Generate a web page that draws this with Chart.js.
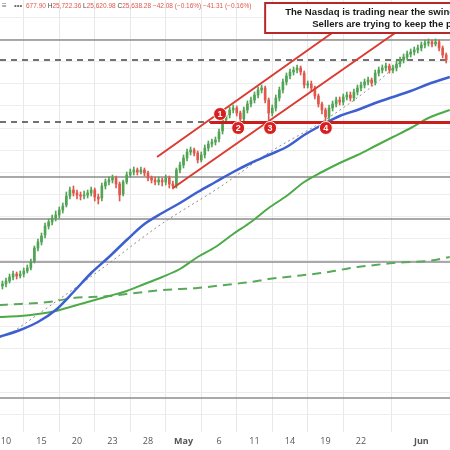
<!DOCTYPE html>
<html>
<head>
<meta charset="utf-8">
<script src="https://cdn.jsdelivr.net/npm/chart.js@4.4.0/dist/chart.umd.min.js"></script>
<style>
  html, body { margin: 0; padding: 0; background: #fff; }
  #wrap { width: 450px; height: 450px; }
</style>
</head>
<body>
<div id="wrap"><canvas id="grafico" width="450" height="450"></canvas></div>
<script>
// Eixo do tempo: posição (índice da vela) e texto de cada rótulo
const tickIdx = [1, 11, 21, 31, 41, 51, 61, 71, 81, 91, 101, 118];
const tickLabels = ['10', '15', '20', '23', '28', 'May', '6', '11', '14', '19', '22', 'Jun'];
const boldLabels = ['May', 'Jun'];

// Linhas de grade horizontais (preço)
const gridLevels = [25820, 25600, 25380, 25160, 24940, 24720, 24500, 24280, 24060, 23840,
  23620, 23400, 23180, 22960, 22740, 22520, 22300, 22080, 21860];

// Velas horárias (índice 0..125)
const opens = [
  23140,23160,23190,23230,23260,23240,23260,23290,23320,23390,
  23520,23580,23650,23740,23780,23820,23850,23900,23950,24040,
  24100,24070,24050,24040,24050,24070,24100,24030,24020,24140,
  24180,24200,24220,24160,24060,24180,24250,24280,24300,24280,
  24300,24270,24220,24200,24180,24200,24180,24220,24160,24150,
  24300,24350,24420,24480,24500,24470,24400,24450,24520,24560,
  24580,24610,24690,24800,24850,24900,24920,24870,24810,24900,
  24960,25000,25050,25100,25120,25000,24870,24920,25020,25100,
  25180,25240,25280,25300,25320,25270,25150,25160,25120,25040,
  24960,24900,24830,24920,24960,25000,24980,25030,25050,25020,
  25080,25120,25150,25180,25200,25180,25270,25300,25320,25340,
  25300,25320,25360,25400,25430,25460,25480,25500,25520,25550,
  25570,25580,25560,25580,25520,25450
];
const highs = [
  23190,23220,23260,23290,23280,23290,23320,23350,23410,23540,
  23610,23670,23770,23810,23850,23890,23930,23970,24080,24130,
  24140,24100,24080,24090,24100,24130,24120,24060,24170,24210,
  24230,24250,24240,24180,24200,24280,24310,24330,24320,24330,
  24320,24290,24240,24230,24230,24220,24250,24240,24190,24320,
  24380,24450,24510,24530,24520,24490,24480,24550,24590,24610,
  24630,24710,24830,24880,24930,24950,24940,24890,24930,24990,
  25030,25080,25130,25150,25140,25020,24950,25050,25130,25210,
  25270,25310,25330,25350,25340,25290,25190,25190,25140,25060,
  24980,24920,24950,24990,25030,25030,25060,25080,25080,25110,
  25150,25180,25210,25230,25220,25300,25330,25350,25370,25360,
  25350,25390,25430,25460,25490,25510,25530,25550,25580,25600,
  25610,25600,25610,25600,25540,25470
];
const lows = [
  23110,23130,23170,23200,23210,23220,23230,23270,23300,23370,
  23490,23550,23620,23710,23750,23790,23820,23870,23930,24010,
  24040,24010,24000,24010,24020,24040,23990,23960,23990,24110,
  24150,24170,24120,23990,24040,24160,24230,24250,24250,24260,
  24240,24190,24170,24150,24150,24140,24150,24120,24110,24120,
  24270,24320,24390,24450,24440,24370,24380,24420,24490,24530,
  24550,24580,24660,24770,24820,24870,24840,24780,24790,24870,
  24930,24970,25020,25070,24970,24780,24840,24890,24990,25070,
  25150,25210,25250,25270,25250,25120,25120,25090,25010,24930,
  24860,24780,24800,24890,24930,24950,24950,25000,24990,24990,
  25050,25090,25120,25150,25140,25150,25240,25270,25290,25270,
  25270,25290,25330,25370,25400,25430,25450,25470,25490,25520,
  25540,25530,25540,25490,25420,25370
];
const closes = [
  23160,23190,23230,23260,23240,23260,23290,23320,23380,23520,
  23580,23640,23740,23780,23820,23850,23900,23940,24040,24100,
  24070,24050,24040,24050,24070,24100,24030,24010,24140,24180,
  24200,24220,24160,24050,24180,24250,24280,24300,24280,24300,
  24270,24220,24200,24180,24200,24180,24220,24160,24140,24300,
  24350,24420,24480,24500,24470,24400,24450,24520,24560,24580,
  24600,24680,24800,24850,24900,24920,24870,24810,24900,24960,
  25000,25050,25100,25120,25000,24870,24920,25020,25100,25180,
  25240,25280,25300,25320,25280,25150,25160,25120,25040,24960,
  24900,24830,24920,24960,25000,24980,25030,25050,25020,25080,
  25120,25150,25180,25200,25170,25270,25300,25320,25340,25300,
  25320,25360,25400,25430,25460,25480,25500,25520,25550,25570,
  25580,25560,25580,25520,25450,25400
];

// Médias móveis (amostradas a cada 5 velas)
const maX = [-1,5,10,15,20,25,30,35,40,45,50,55,60,65,70,75,80,85,90,95,100,105,110,115,120,126];
const maAzul = [22630,22700,22780,22900,23080,23270,23430,23600,23760,23870,23970,24080,24180,
  24280,24370,24450,24530,24650,24750,24840,24900,24970,25030,25090,25160,25230];
const maVerde = [22830,22840,22860,22890,22940,22990,23040,23090,23160,23230,23310,23430,23530,
  23660,23780,23920,24040,24180,24280,24370,24450,24540,24630,24720,24820,24900];
const maVerdeTracejada = [22950,22960,22970,22990,23020,23030,23040,23060,23080,23100,23110,23120,23140,
  23160,23180,23210,23230,23250,23270,23300,23330,23350,23370,23380,23390,23430];

// Linha pontilhada cinza
const trendX = [2.97, 27.48, 44.38, 61.28, 75.37, 90.86, 103.53, 114.24, 119.03];
const trendY = [22680, 23300, 23750, 24130, 24480, 24800, 25120, 25450, 25600];

// Canal de alta (duas linhas vermelhas)
const canalX1 = [43.54, 92.83];
const canalY1 = [24430, 25670];
const canalX2 = [48.04, 110.58];
const canalY2 = [24120, 25670];

// Suporte e níveis horizontais
const suporte = 24775;
const suporteInicio = 58.5;
const niveisCinza = [25600, 24230, 23810, 23380, 22020];
const nivelTracejado = 25400;
const suporteTracejado = 24780;
const suporteTracejadoFim = 59.9;

// Marcadores numerados
const markerX = [61.3, 66.4, 75.4, 91.1];
const markerY = [24860, 24720, 24720, 24720];
const markerText = ['1', '2', '3', '4'];

const xMin = -0.69;
const xMax = 126.07;

const verde = '#52a455';
const vermelho = '#e2574c';
const corVelas = closes.map((c, i) => c >= opens[i] ? verde : vermelho);

function pontos(xs, ys) {
  return xs.map((x, i) => ({ x, y: ys[i] }));
}

function linhaHorizontal(nivel, x0, x1, estilo) {
  return Object.assign({
    type: 'line',
    data: [{ x: x0, y: nivel }, { x: x1, y: nivel }],
    pointRadius: 0,
    fill: false
  }, estilo);
}

// Plugin: números nos marcadores, caixa de texto e cabeçalho
const anotacoes = {
  id: 'anotacoes',
  afterDatasetsDraw(chart) {
    const c = chart.ctx;
    const { x, y } = chart.scales;

    // números dentro dos círculos
    const meta = chart.getDatasetMeta(0);
    c.save();
    c.fillStyle = '#fff';
    c.font = 'bold 9px "Liberation Sans", Arial, sans-serif';
    c.textAlign = 'center';
    c.textBaseline = 'middle';
    meta.data.forEach((p, i) => c.fillText(markerText[i], p.x, p.y + 0.5));
    c.restore();

    // caixa de comentário
    const bx = x.getPixelForValue(74);
    const by = y.getPixelForValue(25970);
    const bb = y.getPixelForValue(25670);
    c.save();
    c.fillStyle = '#fff';
    c.fillRect(bx, by, 200, bb - by);
    c.strokeStyle = '#b7282a';
    c.lineWidth = 2;
    c.strokeRect(bx, by, 200, bb - by);
    c.fillStyle = '#1a1a1a';
    c.font = 'bold 9.6px "Liberation Sans", Arial, sans-serif';
    c.textBaseline = 'alphabetic';
    c.fillText('The Nasdaq is trading near the swing highs.', bx + 20, by + 12);
    c.fillText('Sellers are trying to keep the price below.', bx + 47, by + 23.5);
    c.restore();
  },
  afterDraw(chart) {
    const c = chart.ctx;
    c.save();
    c.textBaseline = 'middle';
    c.font = '8px "Liberation Sans", Arial, sans-serif';
    c.fillStyle = '#666';
    c.fillText('≡', 2, 6);
    c.fillText('•••', 14, 6);
    c.font = '6.5px "Liberation Sans", Arial, sans-serif';
    const partes = [
      ['677.90 ', vermelho], ['H', '#444'], ['25,722.36 ', vermelho], ['L', '#444'],
      ['25,620.98 ', vermelho], ['C', '#444'], ['25,638.28 ', vermelho],
      ['\u221242.08 (\u22120.16%) ', vermelho], ['\u221241.31 (\u22120.16%)', vermelho]
    ];
    let px = 26;
    partes.forEach(([t, cor]) => {
      c.fillStyle = cor;
      c.fillText(t, px, 6);
      px += c.measureText(t).width;
    });
    c.restore();
  }
};

const datasets = [
  {
    type: 'line',
    data: pontos(markerX, markerY),
    showLine: false,
    pointRadius: 6.5,
    pointBackgroundColor: '#d91f1f',
    pointBorderColor: '#fff',
    pointBorderWidth: 1,
    order: 0
  },
  linhaHorizontal(suporte, suporteInicio, xMax, { borderColor: '#cc1d1d', borderWidth: 3, order: 1 }),
  { type: 'line', data: pontos(canalX1, canalY1), borderColor: '#dc3a31', borderWidth: 2, pointRadius: 0, order: 2 },
  { type: 'line', data: pontos(canalX2, canalY2), borderColor: '#dc3a31', borderWidth: 2, pointRadius: 0, order: 2 },
  {
    type: 'bar',
    data: opens.map((o, i) => ({ x: i, y: [o, closes[i]] })),
    backgroundColor: corVelas,
    barThickness: 2,
    minBarLength: 1,
    grouped: false,
    order: 3
  },
  {
    type: 'bar',
    data: opens.map((o, i) => ({ x: i, y: [lows[i], highs[i]] })),
    backgroundColor: corVelas,
    barThickness: 1,
    grouped: false,
    order: 4
  },
  { type: 'line', data: pontos(maX, maAzul), borderColor: '#3d5fd0', borderWidth: 2.5, pointRadius: 0, tension: 0.4, cubicInterpolationMode: 'monotone', order: 5 },
  { type: 'line', data: pontos(maX, maVerde), borderColor: '#4caa48', borderWidth: 2, pointRadius: 0, tension: 0.4, cubicInterpolationMode: 'monotone', order: 6 },
  { type: 'line', data: pontos(maX, maVerdeTracejada), borderColor: '#5aa95a', borderWidth: 2, borderDash: [9, 6], pointRadius: 0, tension: 0.4, cubicInterpolationMode: 'monotone', order: 7 },
  { type: 'line', data: pontos(trendX, trendY), borderColor: '#8a8a8a', borderWidth: 1, borderDash: [2, 3], pointRadius: 0, tension: 0.3, cubicInterpolationMode: 'monotone', order: 8 },
  linhaHorizontal(nivelTracejado, xMin, xMax, { borderColor: '#444', borderWidth: 1.3, borderDash: [6, 5], order: 9 }),
  linhaHorizontal(suporteTracejado, xMin, suporteTracejadoFim, { borderColor: '#444', borderWidth: 1.3, borderDash: [6, 5], order: 9 })
].concat(niveisCinza.map(n => linhaHorizontal(n, xMin, xMax, { borderColor: '#8c8c8c', borderWidth: 1.5, order: 10 })));

new Chart(document.getElementById('grafico'), {
  type: 'bar',
  data: { datasets },
  options: {
    responsive: false,
    animation: false,
    events: [],
    layout: { padding: 0, autoPadding: false },
    plugins: { legend: { display: false }, tooltip: { enabled: false } },
    scales: {
      x: {
        type: 'linear',
        min: xMin,
        max: xMax,
        offset: false,
        border: { display: false },
        grid: { color: '#e8e8e8', drawTicks: false },
        afterBuildTicks: (axis) => { axis.ticks = tickIdx.map(v => ({ value: v })); },
        afterFit: (axis) => { axis.height = 18; axis.paddingLeft = 0; axis.paddingRight = 0; },
        ticks: {
          autoSkip: false,
          maxRotation: 0,
          padding: 4,
          color: '#555',
          font: (ctx) => ({
            family: '"Open Sans", sans-serif',
            size: 9,
            weight: ctx.tick && boldLabels.includes(tickLabels[tickIdx.indexOf(ctx.tick.value)]) ? 'bold' : 'normal'
          }),
          callback: (value) => tickLabels[tickIdx.indexOf(value)]
        }
      },
      y: {
        type: 'linear',
        position: 'right',
        min: 21680,
        max: 26000,
        border: { display: false },
        grid: { color: '#ededed', drawTicks: false },
        afterBuildTicks: (axis) => { axis.ticks = gridLevels.map(v => ({ value: v })); },
        afterFit: (axis) => { axis.width = 0; axis.paddingTop = 0; axis.paddingBottom = 0; },
        ticks: { display: false }
      }
    }
  },
  plugins: [anotacoes]
});
</script>
</body>
</html>
